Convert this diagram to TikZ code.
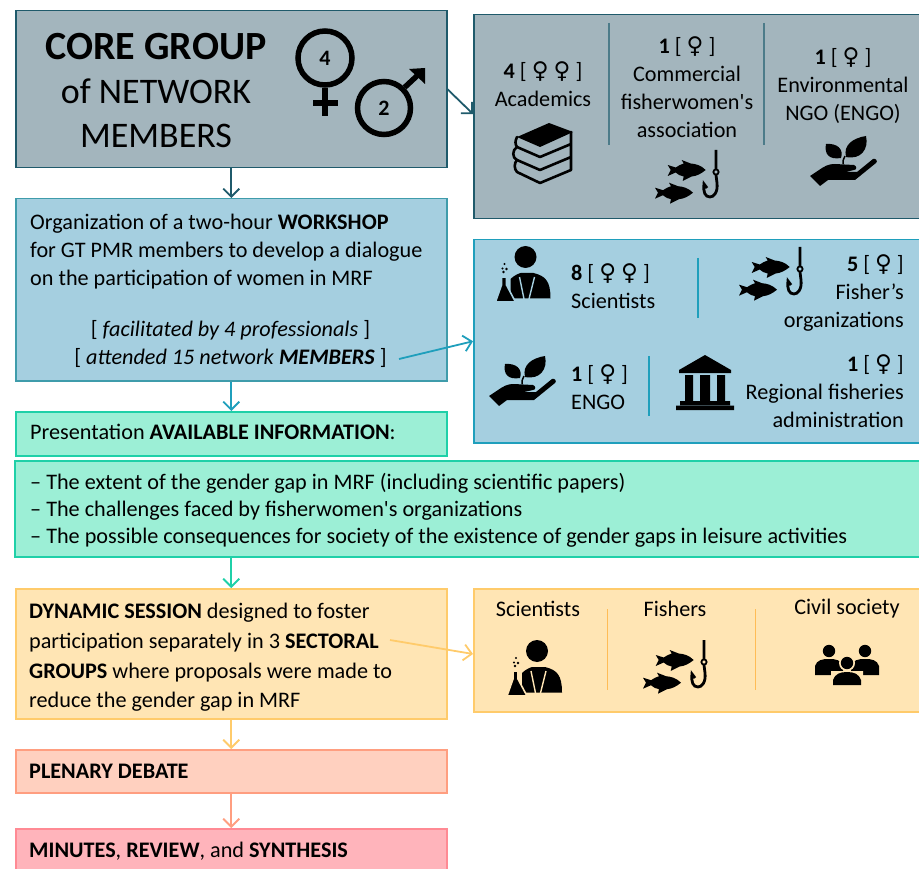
\documentclass[tikz,border=0pt]{standalone}
\usepackage{fontspec}
\setmainfont{Carlito}
\newfontfamily\symfont{DejaVu Sans}
\usetikzlibrary{arrows.meta}
\definecolor{gfill}{HTML}{A3B5BD}\definecolor{gline}{HTML}{1F5A6B}
\definecolor{bfill}{HTML}{A5CFE0}\definecolor{bline}{HTML}{1F9FBC}\definecolor{bmute}{HTML}{3F9CAB}
\definecolor{tfill}{HTML}{9CEFD6}\definecolor{tline}{HTML}{1FD0A8}
\definecolor{ofill}{HTML}{FFE5B4}\definecolor{oline}{HTML}{FFCB6B}
\definecolor{pfill}{HTML}{FFD0BF}\definecolor{pline}{HTML}{FF9E80}
\definecolor{rfill}{HTML}{FFB4BB}\definecolor{rline}{HTML}{FF8A94}
\definecolor{gapcol}{HTML}{A3B5BD}
\newcommand{\fm}{{\symfont\fontsize{23}{20}\selectfont ♀}}
\newcommand{\fs}{\fontsize{22.2}{28}\selectfont}
\tikzset{
  x=1pt,y=-1pt,
  box/.style={draw=#1line,fill=#1fill,line width=1.5pt,inner sep=0pt,anchor=north west},
  lbl/.style={inner sep=0pt,font=\fs,text=black,align=center},
  lblw/.style={lbl,align=left,anchor=west},
  lble/.style={lbl,align=right,anchor=east},
  arr/.style={draw=#1,line width=1.8pt,-{Straight Barb[length=8pt,width=16pt,line width=1.8pt]}},
  sep/.style={draw=#1,line width=1.5pt},
  fish/.pic={\fill (38,0) .. controls (33,-5) and (28,-6) .. (23,-6.5) -- (14,-10) -- (16,-6.5) .. controls (13,-6) and (11,-4) .. (8,-2.5) -- (0,-5) -- (3,0) -- (0,6) -- (8,2.5) .. controls (11,5) and (13,6) .. (16,6.5) -- (15,11) -- (24,6.5) .. controls (29,6) and (33,4) .. (38,0) -- cycle;},
  fishhook/.pic={
    \path (-48.3,20) pic {fish};
    \path (-61,42.7) pic {fish};
    \draw[line width=2.8pt] (0,0) -- (0,19) (0,25) -- (1,33) .. controls (2,42) and (-2,47) .. (-6,47) .. controls (-11,47) and (-13,42) .. (-12,34) -- (-9,38);
    \draw[line width=1.8pt] (0,22) circle (2.6);
  },
  planthand/.pic={
    \fill (-33,13) -- (-21,5) .. controls (-15,1) and (-10,1) .. (-8,1) -- (11,2) .. controls (14,3) and (14,7) .. (11,7) -- (2,9) -- (14,9) -- (30,-4) .. controls (33,-5) and (35,-2) .. (33,0) -- (12,17) -- (-15,17) -- (-23,23) -- cycle;
    \fill (-2,-5) .. controls (-14,-3) and (-19,-9) .. (-17,-19) .. controls (-6,-20) and (1,-14) .. (-2,-5) -- cycle;
    \fill (3,-6) .. controls (0,-18) and (10,-25) .. (23,-27) .. controls (26,-14) and (18,-3) .. (3,-6) -- cycle;
    \draw[line width=1.5pt] (0,1) .. controls (0,-2) and (0,-4) .. (2,-7);
  },
  scientist/.pic={
    \fill (0,0) circle (11);
    \fill (-15,41.5) -- (-15,22) .. controls (-12,19) and (-8,17) .. (-5,16) -- (8,16) .. controls (20,19) and (25,24) .. (25,41.5) -- cycle;
    \draw[gapcol,line width=1.4pt] (-6,20) -- (-1.5,42) (9,20) -- (3.5,42);
    \draw[gapcol,line width=1.6pt,fill=black] (-24,20) -- (-19,20) -- (-19,28) -- (-10,45) -- (-30,45) -- (-24,28) -- cycle;
    \fill (-22,15) circle (1.3) (-19,12) circle (1.3) (-23,11.5) circle (1.1) (-21,7) circle (1.1);
  },
  books/.pic={
    \fill (9,-29) -- (33,-20) -- (0,-5) -- (-23,-15) -- cycle;
    \draw[line width=2.6pt,line join=round,line cap=round]
      (-23,-15) .. controls (-25,-11) and (-25,-8) .. (-23,-5) -- (0,5) -- (31,-8) -- (31,-20)
      (-23,-5) .. controls (-28,-2) and (-28,6) .. (-23,8) -- (0,18) -- (31,5) -- (31,-8)
      (-23,8) .. controls (-26,11) and (-26,17) .. (-23,20) -- (0,31) -- (31,18) -- (31,5);
  },
  temple/.pic={
    \fill (0,0) -- (26,15) -- (26,18) -- (-26,18) -- (-26,15) -- cycle;
    \fill (-20,20) rectangle (-12,46) (-5,20) rectangle (5,46) (12,20) rectangle (20,46);
    \fill (-25,46) rectangle (25,50) (-29,50.5) rectangle (29,55);
  },
  people/.pic={
    \fill (-18,-12) circle (6.2) (18,-12) circle (6.2);
    \fill (-32,12) -- (-32,3) .. controls (-30,-3) and (-25,-4) .. (-18,-4) .. controls (-11,-4) and (-6,-3) .. (-4,3) -- (-4,12) -- cycle;
    \fill (32,12) -- (32,3) .. controls (30,-3) and (25,-4) .. (18,-4) .. controls (11,-4) and (6,-3) .. (4,3) -- (4,12) -- cycle;
    \fill[gapcol] (0,0) circle (8) (-16,23) rectangle (16,8);
    \fill (0,0) circle (6.2);
    \fill (-14,22) -- (-14,17) .. controls (-12,11) and (-7,9) .. (0,9) .. controls (7,9) and (12,11) .. (14,17) -- (14,22) -- cycle;
  }
}
\begin{document}
\begin{tikzpicture}
\useasboundingbox (0,0) rectangle (919,869);
\clip (0,0) rectangle (919,869);
% left column boxes
\node[box=g,minimum width=431pt,minimum height=157pt] (core) at (15,10) {};
\node[box=b,draw=bmute,minimum width=431pt,minimum height=182pt] (work) at (15,198) {};
\node[box=t,minimum width=431pt,minimum height=44pt] (pres) at (15,411) {};
\node[box=t,minimum width=912pt,minimum height=96pt] (info) at (14,460) {};
\node[box=o,minimum width=431pt,minimum height=130pt] (dyn) at (15,588) {};
\node[box=p,minimum width=431pt,minimum height=43pt] (plen) at (15,749) {};
\node[box=r,minimum width=431pt,minimum height=60pt] (minu) at (15,828) {};
% right column boxes
\node[box=g,minimum width=455pt,minimum height=204pt] (rtop) at (473,14) {};
\node[box=b,minimum width=455pt,minimum height=203pt] (rmid) at (473,239) {};
\node[box=o,minimum width=455pt,minimum height=123pt] (rbot) at (473,588) {};
% core text
\node[lbl,font=\fontsize{36}{44}\selectfont] (coretxt) at (156,91) {{\fontsize{40}{44}\selectfont\textbf{CORE GROUP}}\\of NETWORK\\MEMBERS};
\node[circle,draw=black,line width=5.5pt,minimum size=54pt,inner sep=0pt,font=\fontsize{22}{24}\selectfont\bfseries] (fem) at (325,58) {4};
\coordinate (femend) at (325,116);
\coordinate (fema) at (313,103);
\coordinate (femb) at (338,103);
\draw[line width=5.5pt] (fem.south) -- (femend) (fema) -- (femb);
\node[circle,draw=black,line width=5.5pt,minimum size=53pt,inner sep=0pt,font=\fontsize{22}{24}\selectfont\bfseries] (mal) at (384,108) {2};
\coordinate (maltip) at (425,68);
\draw[line width=5.5pt] (mal.45) -- (419,74);
\fill (maltip) -- (425,84) -- (409,69) -- cycle;
% workshop text
\node[lblw] (w1) at (30,252) {Organization of a two-hour \textbf{WORKSHOP}\\for GT PMR members to develop a dialogue\\on the participation of women in MRF};
\node[lbl] (w2) at (230.5,344) {[ \textit{facilitated by 4 professionals} ]\\{}[ \textit{attended 15 network} \textbf{\textit{MEMBERS}} ]};
% presentation
\node[lblw] (p1) at (30,432) {Presentation \textbf{AVAILABLE INFORMATION}:};
\node[lblw,font=\fontsize{22.2}{27}\selectfont] (i1) at (30,510) {– The extent of the gender gap in MRF (including scientific papers)\\– The challenges faced by fisherwomen\textquotesingle s organizations\\– The possible consequences for society of the existence of gender gaps in leisure activities};
% dynamic
\node[lblw,font=\fontsize{22.2}{29.6}\selectfont] (d1) at (29,657.5) {\textbf{DYNAMIC SESSION} designed to foster\\participation separately in 3 \textbf{SECTORAL}\\\textbf{GROUPS} where proposals were made to\\reduce the gender gap in MRF};
\node[lblw] (pl) at (29,771) {\textbf{PLENARY DEBATE}};
\node[lblw] (mi) at (29,851) {\textbf{MINUTES}, \textbf{REVIEW}, and \textbf{SYNTHESIS}};
% top right
\coordinate (s1a) at (609,23); \coordinate (s1b) at (609,145);
\coordinate (s2a) at (764,23); \coordinate (s2b) at (764,145);
\draw[sep=gline!80] (s1a) -- (s1b) (s2a) -- (s2b);
\node[lbl] (t1) at (543,84) {\textbf{4} [ \fm\ \fm\ ]\\Academics};
\node[lbl] (t2) at (687,87) {\textbf{1} [ \fm\ ]\\Commercial\\fisherwomen\textquotesingle s\\association};
\node[lbl] (t3) at (843,86) {\textbf{1} [ \fm\ ]\\Environmental\\NGO (ENGO)};
\colorlet{gapcol}{gfill}
\path (540,152) pic {books};
\path (716,150) pic {fishhook};
\path (843,163) pic {planthand};
% mid right
\coordinate (s3a) at (698,258); \coordinate (s3b) at (698,318);
\coordinate (s4a) at (649,356); \coordinate (s4b) at (649,416);
\draw[sep=bline] (s3a) -- (s3b) (s4a) -- (s4b);
\node[lblw] (m1) at (571,286) {\textbf{8} [ \fm\ \fm\ ]\\Scientists};
\node[lble] (m2) at (904,293) {\textbf{5} [ \fm\ ]\\Fisher’s\\organizations};
\node[lblw] (m3) at (571,387) {\textbf{1} [ \fm\ ]\\ENGO};
\node[lble] (m4) at (904,391) {\textbf{1} [ \fm\ ]\\Regional fisheries\\administration};
\colorlet{gapcol}{bfill}
\path (525.5,257) pic {scientist};
\path (800,247) pic {fishhook};
\path (522,383) pic {planthand};
\path (705,355) pic {temple};
% bottom right
\coordinate (s5a) at (607,609); \coordinate (s5b) at (607,690);
\coordinate (s6a) at (755,609); \coordinate (s6b) at (755,690);
\draw[sep=oline!80!orange,line width=1pt] (s5a) -- (s5b) (s6a) -- (s6b);
\node[lbl] (b1) at (538,609) {Scientists};
\node[lbl] (b2) at (675,609) {Fishers};
\node[lbl] (b3) at (847,609) {Civil society};
\colorlet{gapcol}{ofill}
\path (537,651) pic {scientist};
\path (704,640) pic {fishhook};
\path (847,663) pic {people};
% connectors
\draw[arr=gline] (core.south) -- (work.north);
\draw[arr=bline] (work.south) -- (pres.north);
\draw[arr=tline] (info.south -| pres.south) -- (dyn.north);
\draw[arr=oline] (dyn.south) -- (plen.north);
\draw[arr=pline] (plen.south) -- (minu.north);
\coordinate (gtip) at (473,114);
\draw[arr=gline] (core.east) -- (gtip);
\coordinate (bstart) at (399,359);
\draw[arr=bline] (bstart) -- (rmid.west);
\coordinate (ostart) at (390,640);
\coordinate (otip) at (473,654);
\draw[arr=oline] (ostart) -- (otip);
\end{tikzpicture}
\end{document}
